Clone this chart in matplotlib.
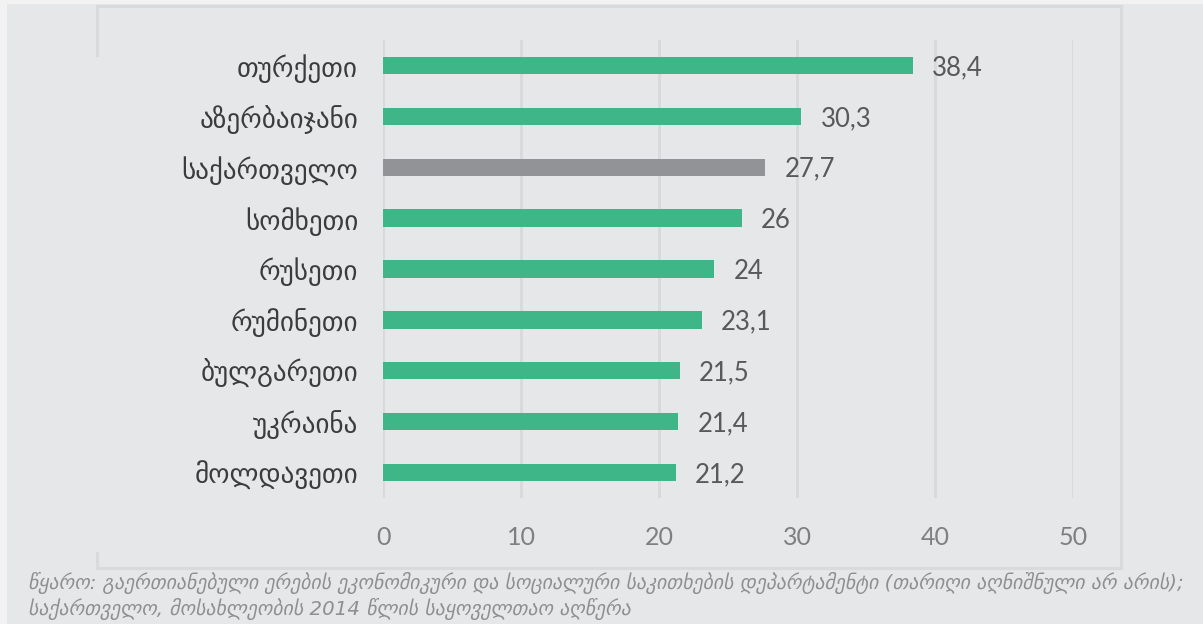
import matplotlib
matplotlib.use("Agg")
import matplotlib.pyplot as plt
from matplotlib.lines import Line2D
from matplotlib.patches import Rectangle

categories = ["თურქეთი", "აზერბაიჯანი", "საქართველო", "სომხეთი", "რუსეთი",
              "რუმინეთი", "ბულგარეთი", "უკრაინა", "მოლდავეთი"]
values = [38.4, 30.3, 27.7, 26, 24, 23.1, 21.5, 21.4, 21.2]
value_labels = ["38,4", "30,3", "27,7", "26", "24", "23,1", "21,5", "21,4", "21,2"]
highlight = "საქართველო"
xticks = [0, 10, 20, 30, 40, 50]
footnote = ("წყარო: გაერთიანებული ერების ეკონომიკური და სოციალური საკითხების დეპარტამენტი (თარიღი აღნიშნული არ არის);\n"
            "საქართველო, მოსახლეობის 2014 წლის საყოველთაო აღწერა")

W, H = 1203, 624
BG = "#e6e7e9"
GREEN = "#3fb688"
GREY = "#929396"
GRID = "#d8d9db"

fig = plt.figure(figsize=(W / 100, H / 100), dpi=100)
fig.patch.set_facecolor("#f2f2f3")
fig.patches.append(Rectangle((7 / W, 0), 1 - 7 / W, 1 - 4 / H, transform=fig.transFigure,
                             facecolor=BG, edgecolor="none", zorder=-10))

# panel frame
def fl(x0, y0, x1, y1):
    fig.lines.append(Line2D([x0 / W, x1 / W], [1 - y0 / H, 1 - y1 / H], transform=fig.transFigure,
                            color="#d9dadc", lw=2.2, zorder=-5))
fl(97, 6, 1121, 6)
fl(1121, 6, 1121, 568)
fl(97, 568, 1121, 568)
fl(97, 6, 97, 55)
fl(97, 553, 97, 568)

ax = fig.add_axes([383 / W, 1 - 498 / H, (1073 - 383) / W, (498 - 40) / H])
ax.set_facecolor("none")
ypos = list(range(len(categories)))
colors = [GREY if c == highlight else GREEN for c in categories]
ax.barh(ypos, values, height=0.34, color=colors, zorder=3)
for y, v, lab in zip(ypos, values, value_labels):
    ax.annotate(lab, (v, y), xytext=(14, -1.5), textcoords="offset points",
                va="center", ha="left", fontsize=18.5, color="#595959", family="Lato")
ax.set_xlim(0, 50)
ax.set_ylim(len(categories) - 0.5, -0.5)
ax.set_xticks(xticks)
ax.set_xticklabels([str(t) for t in xticks], fontsize=18, color="#7f7f7f", family="Lato")
ax.set_yticks(ypos)
ax.set_yticklabels(categories, fontsize=19.5, color="#3c3c3c", family="DejaVu Sans")
ax.tick_params(axis="x", length=0, pad=20)
ax.tick_params(axis="y", length=0, pad=18)
ax.grid(axis="x", color=GRID, lw=2, zorder=0)
for s in ax.spines.values():
    s.set_visible(False)

fig.text(28 / W, 1 - 596 / H, footnote, fontsize=14.2, style="italic", color="#8f8f8f",
         family="DejaVu Sans", ha="left", va="center", linespacing=1.2)

fig.savefig("out.png", dpi=100, facecolor=fig.get_facecolor())
